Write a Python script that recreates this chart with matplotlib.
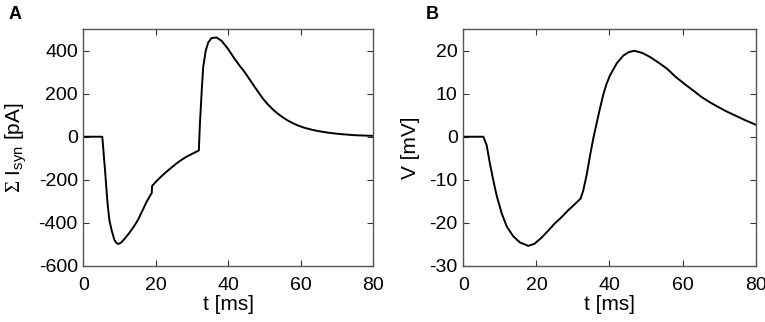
import matplotlib
matplotlib.use("Agg")
import matplotlib.pyplot as plt

plt.rcParams['font.family'] = ['Liberation Sans', 'DejaVu Sans']
plt.rcParams['axes.unicode_minus'] = False
plt.rcParams['mathtext.fontset'] = 'custom'
plt.rcParams['mathtext.rm'] = 'Liberation Serif'
plt.rcParams['mathtext.sf'] = 'Liberation Sans'

# panel A: summed synaptic current (pA)
t_a = [0, 5.24, 5.6, 6.0, 6.35, 6.7, 7.2, 7.8, 8.6, 9.2, 9.7, 10.5, 11.5, 12.6,
       13.8, 15.0, 16.5, 17.5, 18.8, 18.9, 19.0, 20.2, 21.5, 22.9,
       24.3, 25.7, 27.0, 28.4, 30.0, 31.9, 32.2, 32.7, 33.1, 33.8, 34.5, 35.4,
       36.8, 38.2, 40.0, 41.8, 43.2, 44.6, 46.0, 47.4, 49.7, 51.0, 52.4, 53.8,
       55.2, 56.5, 58.0, 59.3, 61.0, 63.0, 65.0, 67.5, 70.0, 72.0, 75.0, 80.0]
i_syn = [0, 0, -75, -156, -235, -311, -388, -434, -481, -495, -499, -492, -473, -450,
         -422, -390, -338, -302, -264, -262, -229, -207, -185, -164,
         -144, -125, -109, -94, -80, -64, 60, 215, 323, 400, 439, 459,
         462, 446, 408, 362, 330, 300, 265, 230, 175, 150, 126, 106,
         89, 75, 62, 52, 42, 33, 26, 19, 14, 11, 7, 4]

# panel B: membrane potential (mV)
t_b = [0, 5.5, 6.4, 7.3, 8.2, 9.1, 10.5, 11.9, 13.7, 15.5, 17.8,
       19.5, 21.4, 23.2, 25.0, 26.8, 28.6, 30.5, 32.1, 32.8, 33.8, 34.7, 35.6, 36.5,
       37.4, 38.3, 39.2, 40.1, 42.0, 43.8, 45.3, 46.8, 49.0, 51.2, 53.5, 55.8, 58.0,
       60.5, 63.0, 65.1, 67.5, 69.8, 72.0, 74.5, 77.0, 80.0]
v_m = [0, 0, -2.0, -6.3, -10.1, -13.6, -17.8, -20.9, -23.2, -24.6, -25.4,
       -24.9, -23.5, -21.9, -20.2, -18.8, -17.2, -15.7, -14.4, -12.6, -8.7, -4.3, -0.3, 3.2,
       6.6, 9.8, 12.3, 14.2, 17.1, 18.9, 19.7, 20.0, 19.5, 18.5, 17.2, 15.8, 14.0,
       12.3, 10.7, 9.3, 8.0, 6.9, 5.9, 4.9, 3.9, 2.8]

fig = plt.figure(figsize=(7.65, 3.22), dpi=100)
ax1 = fig.add_axes([0.1089, 0.175, 0.3787, 0.734])
ax2 = fig.add_axes([0.6056, 0.175, 0.3822, 0.734])

ax1.plot(t_a, i_syn, color='black', lw=1.4)
ax1.set_xlim(0, 80)
ax1.set_ylim(-600, 500)
ax1.set_yticks([-600, -400, -200, 0, 200, 400])
ax1.set_ylabel(r'$\Sigma$ I$_{\mathsf{syn}}$ [pA]', fontsize=15, labelpad=7)

ax2.plot(t_b, v_m, color='black', lw=1.4)
ax2.set_xlim(0, 80)
ax2.set_ylim(-30, 25)
ax2.set_yticks([-30, -20, -10, 0, 10, 20])
ax2.set_ylabel('V [mV]', fontsize=15, labelpad=7)

for ax in (ax1, ax2):
    ax.set_xticks([0, 20, 40, 60, 80])
    ax.set_xlabel('t [ms]', fontsize=15, labelpad=1)
    ax.tick_params(direction='in', top=True, right=True, length=4, width=0.8,
                   labelsize=14, colors='#333333', labelcolor='black')
    ax.tick_params(axis='x', pad=8)
    ax.tick_params(axis='y', pad=4)
    for s in ax.spines.values():
        s.set_color('#555555')
        s.set_linewidth(1.0)

fig.text(0.011, 0.955, 'A', fontsize=13, fontweight='bold', va='center')
fig.text(0.557, 0.955, 'B', fontsize=13, fontweight='bold', va='center')

fig.savefig('out.png', dpi=100)
